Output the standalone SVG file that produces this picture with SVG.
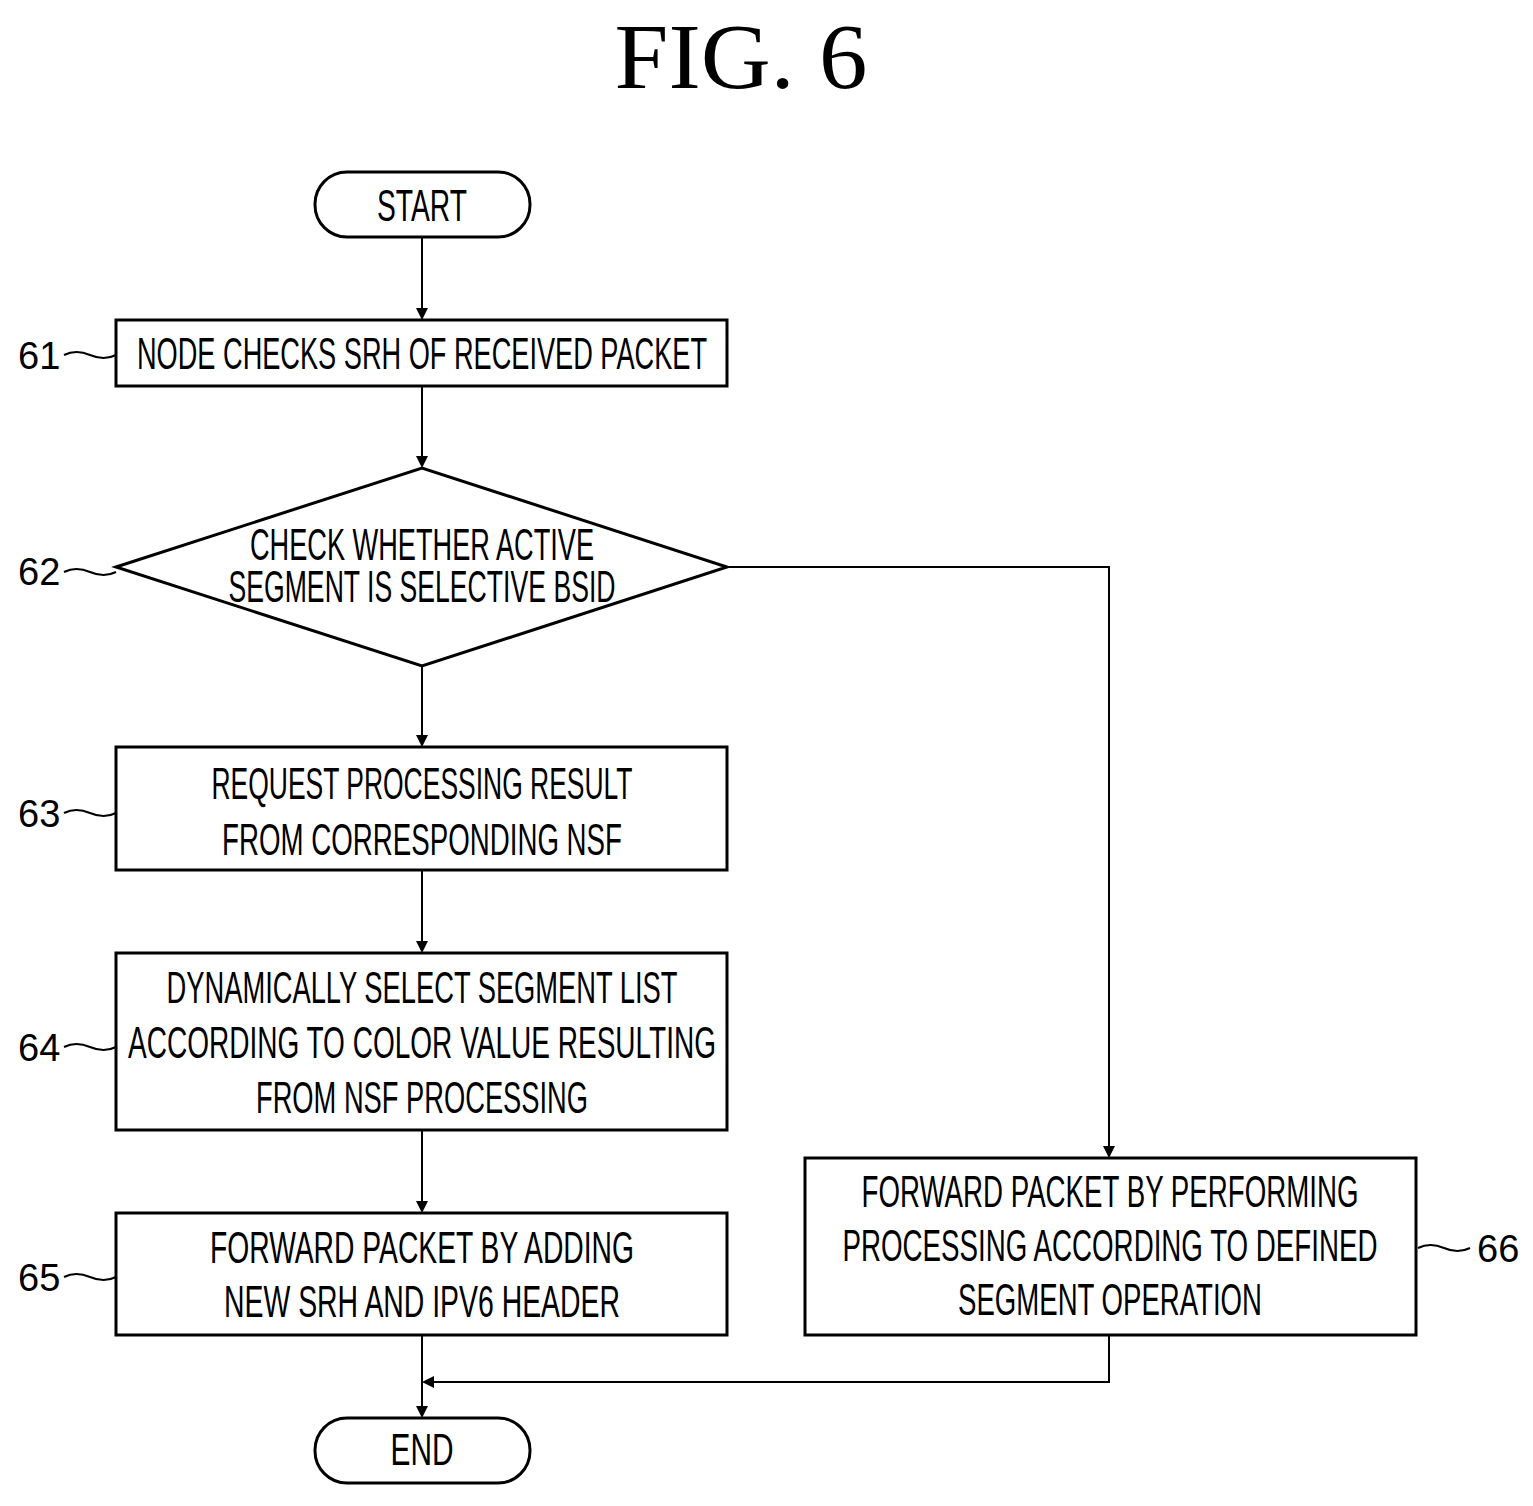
<svg xmlns="http://www.w3.org/2000/svg" width="1533" height="1506" viewBox="0 0 1533 1506">
<style>
.s{fill:#fff;stroke:#000;stroke-width:3}
.t{font-family:"Liberation Sans",sans-serif;font-size:44px;text-anchor:middle}
.n{font-family:"Liberation Sans",sans-serif;font-size:38px}
.c{fill:none;stroke:#000;stroke-width:2}
</style>
<defs><marker id="a" markerWidth="12" markerHeight="12" refX="10" refY="6" orient="auto" markerUnits="userSpaceOnUse"><path d="M0,0 L12,6 L0,12 Z"/></marker></defs>
<rect width="1533" height="1506" fill="#fff"/>
<text x="741" y="88" font-family="Liberation Serif,serif" font-size="94" text-anchor="middle" textLength="253" lengthAdjust="spacingAndGlyphs">FIG. 6</text>
<g id="connectors">
<path class="c" d="M422,237 V318" marker-end="url(#a)"/>
<path class="c" d="M422,386 V466" marker-end="url(#a)"/>
<path class="c" d="M422,666 V745" marker-end="url(#a)"/>
<path class="c" d="M422,870 V951" marker-end="url(#a)"/>
<path class="c" d="M422,1130 V1211" marker-end="url(#a)"/>
<path class="c" d="M422,1335 V1416" marker-end="url(#a)"/>
<path class="c" d="M727,567 H1109 V1156" marker-end="url(#a)"/>
<path class="c" d="M1109,1335 V1382 H424" marker-end="url(#a)"/>
<path class="c" d="M64,355 q12,-6 26,0 t26,0 M64,572 q12,-6 26,0 t26,0 M64,813 q12,-6 26,0 t26,0 M64,1047 q12,-6 26,0 t26,0 M64,1277 q12,-6 26,0 t26,0 M1418,1248 q12,-6 26,0 t26,0"/>
</g>
<g id="start"><rect class="s" x="315" y="172" width="215" height="65" rx="32"/><text class="t" x="422" y="221" textLength="90" lengthAdjust="spacingAndGlyphs">START</text></g>
<g id="n61"><rect class="s" x="116" y="320" width="611" height="66"/><text class="t" x="422" y="369" textLength="570" lengthAdjust="spacingAndGlyphs">NODE CHECKS SRH OF RECEIVED PACKET</text><text class="n" x="18" y="369">61</text></g>
<g id="n62"><path class="s" d="M116,567 L422,468 L727,567 L422,666 Z"/><text class="t" x="422" y="560" textLength="344" lengthAdjust="spacingAndGlyphs">CHECK WHETHER ACTIVE</text><text class="t" x="422" y="602" textLength="387" lengthAdjust="spacingAndGlyphs">SEGMENT IS SELECTIVE BSID</text><text class="n" x="18" y="585">62</text></g>
<g id="n63"><rect class="s" x="116" y="747" width="611" height="123"/><text class="t" x="422" y="799" textLength="421" lengthAdjust="spacingAndGlyphs">REQUEST PROCESSING RESULT</text><text class="t" x="422" y="855" textLength="400" lengthAdjust="spacingAndGlyphs">FROM CORRESPONDING NSF</text><text class="n" x="18" y="827">63</text></g>
<g id="n64"><rect class="s" x="116" y="953" width="611" height="177"/><text class="t" x="422" y="1003" textLength="511" lengthAdjust="spacingAndGlyphs">DYNAMICALLY SELECT SEGMENT LIST</text><text class="t" x="422" y="1058" textLength="588" lengthAdjust="spacingAndGlyphs">ACCORDING TO COLOR VALUE RESULTING</text><text class="t" x="422" y="1113" textLength="332" lengthAdjust="spacingAndGlyphs">FROM NSF PROCESSING</text><text class="n" x="18" y="1061">64</text></g>
<g id="n65"><rect class="s" x="116" y="1213" width="611" height="122"/><text class="t" x="422" y="1263" textLength="424" lengthAdjust="spacingAndGlyphs">FORWARD PACKET BY ADDING</text><text class="t" x="422" y="1317" textLength="396" lengthAdjust="spacingAndGlyphs">NEW SRH AND IPV6 HEADER</text><text class="n" x="18" y="1291">65</text></g>
<g id="n66"><rect class="s" x="805" y="1158" width="611" height="177"/><text class="t" x="1110" y="1207" textLength="497" lengthAdjust="spacingAndGlyphs">FORWARD PACKET BY PERFORMING</text><text class="t" x="1110" y="1261" textLength="535" lengthAdjust="spacingAndGlyphs">PROCESSING ACCORDING TO DEFINED</text><text class="t" x="1110" y="1315" textLength="304" lengthAdjust="spacingAndGlyphs">SEGMENT OPERATION</text><text class="n" x="1477" y="1262">66</text></g>
<g id="end"><rect class="s" x="315" y="1418" width="215" height="65" rx="32"/><text class="t" x="422" y="1465" textLength="63" lengthAdjust="spacingAndGlyphs">END</text></g>
</svg>
